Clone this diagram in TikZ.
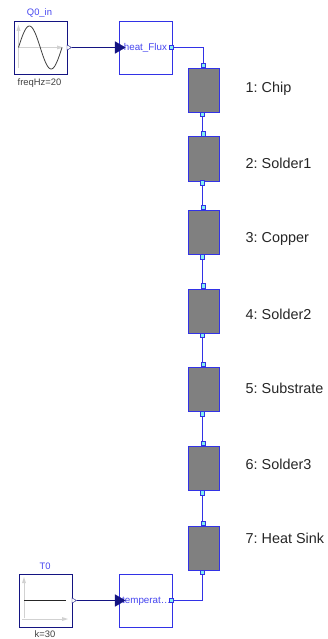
\documentclass[tikz,border=0pt]{standalone}
\usepackage{fontspec}
\setmainfont{Liberation Sans}
\frenchspacing
\usetikzlibrary{shapes.geometric}

\definecolor{wireblue}{RGB}{50,50,230}
\definecolor{darkblue}{RGB}{20,20,130}
\definecolor{labelblue}{RGB}{70,70,240}
\definecolor{portcyan}{RGB}{130,240,240}

\tikzset{
    layerbox/.style={draw=wireblue,line width=0.9pt,fill=black!50,minimum width=31pt,minimum height=44pt,inner sep=0pt,anchor=north west},
    portbox/.style={draw=wireblue,line width=0.7pt,fill=portcyan,minimum size=4.5pt,inner sep=0pt},
    conv/.style={draw=wireblue,line width=0.8pt,fill=white,minimum size=53pt,inner sep=0pt,anchor=north west,text=labelblue,font=\fontsize{9.8}{11}\selectfont},
    src/.style={draw=darkblue,line width=0.8pt,fill=white,minimum size=53pt,inner sep=0pt,anchor=north west},
    inarrow/.style={isosceles triangle,isosceles triangle apex angle=60,draw=darkblue,fill=darkblue,minimum height=10pt,minimum width=10pt,inner sep=0pt},
    outarrow/.style={isosceles triangle,isosceles triangle apex angle=60,draw=darkblue,line width=0.4pt,fill=white,minimum height=4.5pt,minimum width=4.5pt,inner sep=0pt},
    layertext/.style={anchor=base west,inner sep=0pt,font=\fontsize{14.4}{16}\selectfont,text=black!85},
    nametext/.style={inner sep=0pt,text=labelblue,font=\fontsize{9.4}{10}\selectfont},
    partext/.style={inner sep=0pt,text=black!75,font=\fontsize{9.4}{10}\selectfont},
    wire/.style={draw=wireblue,line width=0.7pt},
    sigwire/.style={draw=darkblue,line width=0.7pt},
    axisline/.style={draw=black!18,line width=0.9pt}
}

\begin{document}
\begin{tikzpicture}[x=1pt,y=-1pt]
    \useasboundingbox (0,0) rectangle (327,639);

    % sources and converters
    \node[src] (Q0) at (13.5,21.5) {};
    \node[src] (T0) at (18.5,574) {};
    \node[conv] (flux) at (118.5,21.5) {heat\_Flux};
    \node[conv] (temp) at (118.5,574) {\hspace*{2pt}temperat\dots};

    \node[nametext] (Q0name) at (39.5,13) {Q0\_in};
    \node[partext] (Q0par) at (39.5,83) {freqHz=20};
    \node[nametext] (T0name) at (45,566) {T0};
    \node[partext] (T0par) at (45,634.5) {k=30};

    % icon of Q0
    \draw[axisline] (18.5,68) -- (18.5,30);
    \draw[axisline] (18.5,47.5) -- (60,47.5);
    \fill[black!18] (18.5,25) -- (16.5,31) -- (20.5,31) -- cycle;
    \fill[black!18] (63,47.5) -- (57,45.5) -- (57,49.5) -- cycle;
    \draw[black!75,line width=0.8pt,domain=0:360,samples=50,smooth]
        plot ({18.5+\x/360*43.5},{47.5-21.5*sin(\x)});

    % icon of T0
    \draw[axisline] (24,618) -- (24,581);
    \draw[axisline] (22,619) -- (64,619);
    \fill[black!18] (24,577) -- (22,583) -- (26,583) -- cycle;
    \fill[black!18] (68,619) -- (62,617) -- (62,621) -- cycle;
    \draw[black!85,line width=0.8pt] (24,600.5) -- (66,600.5);

    % layers
    \node[layerbox] (chip) at (187.5,68) {};
    \node[layerbox] (solderA) at (187.5,136.5) {};
    \node[layerbox] (copper) at (187.5,210) {};
    \node[layerbox] (solderB) at (187.5,288.5) {};
    \node[layerbox] (substrate) at (187.5,367) {};
    \node[layerbox] (solderC) at (187.5,446) {};
    \node[layerbox] (sink) at (187.5,526) {};

    \node[layertext] (chiptext) at (245.5,92.5) {1: Chip};
    \node[layertext] (solderAtext) at (245.5,168.5) {2: Solder1};
    \node[layertext] (coppertext) at (245.5,242.5) {3: Copper};
    \node[layertext] (solderBtext) at (245.5,319) {4: Solder2};
    \node[layertext] (substratetext) at (245.5,393.5) {5: Substrate};
    \node[layertext] (solderCtext) at (245.5,469.5) {6: Solder3};
    \node[layertext] (sinktext) at (245.5,543.5) {7: Heat Sink};

    % ports
    \node[portbox] (chipin) at (203.5,65.5) {};
    \node[portbox] (chipout) at (202.5,114.5) {};
    \node[portbox] (solderAin) at (203.5,134) {};
    \node[portbox] (solderAout) at (202.5,183) {};
    \node[portbox] (copperin) at (203.5,207.5) {};
    \node[portbox] (copperout) at (202.5,257) {};
    \node[portbox] (solderBin) at (203.5,286) {};
    \node[portbox] (solderBout) at (202.5,335.5) {};
    \node[portbox] (substratein) at (203.5,364.5) {};
    \node[portbox] (substrateout) at (202.5,414) {};
    \node[portbox] (solderCin) at (203.5,443.5) {};
    \node[portbox] (solderCout) at (202.5,493) {};
    \node[portbox] (sinkin) at (203.5,523.5) {};
    \node[portbox] (sinkout) at (202.5,572.5) {};
    \node[portbox] (fluxout) at (171.5,47.5) {};
    \node[portbox] (tempout) at (171.5,600.5) {};

    % signal ports
    \node[outarrow] (Q0out) at (68.5,47.5) {};
    \node[outarrow] (T0out) at (73.5,600.5) {};
    \node[inarrow] (fluxin) at (118.5,47.5) {};
    \node[inarrow] (tempin) at (118.5,600.5) {};

    % connections
    \draw[sigwire] (Q0out) -- (fluxin);
    \draw[sigwire] (T0out) -- (tempin);
    \draw[wire] (fluxout) -| (chipin);
    \draw[wire] (tempout) -| (sinkout);
    \draw[wire] (chipout) -- (chipout |- solderAin.north);
    \draw[wire] (solderAout) -- (solderAout |- copperin.north);
    \draw[wire] (copperout) -- (copperout |- solderBin.north);
    \draw[wire] (solderBout) -- (solderBout |- substratein.north);
    \draw[wire] (substrateout) -- (substrateout |- solderCin.north);
    \draw[wire] (solderCout) -- (solderCout |- sinkin.north);
\end{tikzpicture}
\end{document}
